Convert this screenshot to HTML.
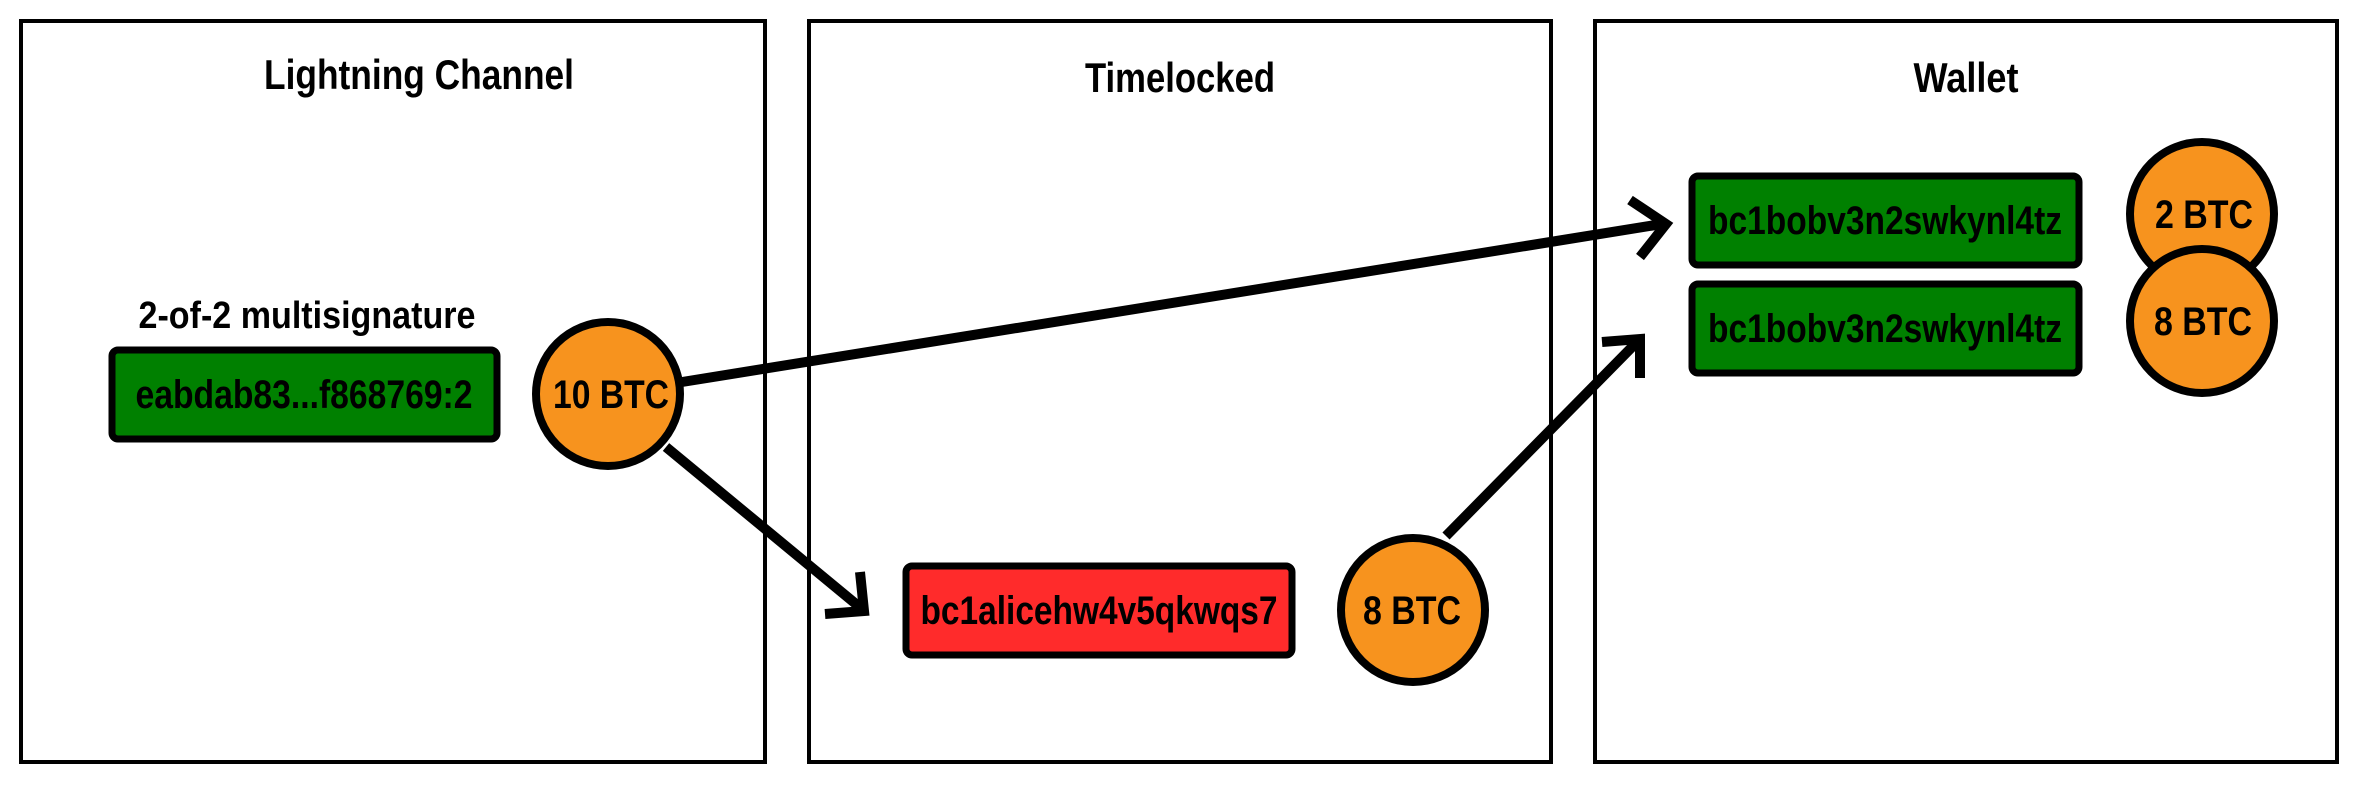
<!DOCTYPE html>
<html><head><meta charset="utf-8"><style>html,body{margin:0;padding:0;background:#fff}svg{display:block}</style></head>
<body>
<svg width="2362" height="787" viewBox="0 0 2362 787" xmlns="http://www.w3.org/2000/svg">
<g fill="none" stroke="#000" stroke-width="4">
<rect x="21" y="21" width="744" height="741"/>
<rect x="809" y="21" width="742" height="741"/>
<rect x="1595" y="21" width="742" height="741"/>
</g>
<g font-family="Liberation Sans, sans-serif" font-weight="bold" text-anchor="middle" fill="#000">
<text x="419" y="89" font-size="42" textLength="310" lengthAdjust="spacingAndGlyphs">Lightning Channel</text>
<text x="1180" y="92" font-size="42" textLength="190" lengthAdjust="spacingAndGlyphs">Timelocked</text>
<text x="1966" y="92" font-size="42" textLength="105" lengthAdjust="spacingAndGlyphs">Wallet</text>
<text x="307" y="328" font-size="38" textLength="337" lengthAdjust="spacingAndGlyphs">2-of-2 multisignature</text>
</g>
<g stroke="#000" stroke-width="10" fill="none" stroke-linejoin="miter" stroke-linecap="butt">
<line x1="682" y1="382" x2="1662" y2="224"/>
<polyline points="1630,200 1666,224 1640,257"/>
<line x1="666" y1="447" x2="862" y2="609"/>
<polyline points="825,614 864,611 860,572"/>
<line x1="1446" y1="536" x2="1638" y2="341"/>
<polyline points="1602,342 1640,339 1640,378"/>
</g>
<g stroke="#000" stroke-width="7">
<rect x="112" y="350" width="385" height="89" rx="6" fill="#008000"/>
<rect x="906" y="566" width="386" height="89" rx="6" fill="#ff2b2b"/>
<rect x="1692" y="176" width="387" height="89" rx="6" fill="#008000"/>
<rect x="1692" y="284" width="387" height="89" rx="6" fill="#008000"/>
</g>
<g stroke="#000" stroke-width="8" fill="#f7931e">
<circle cx="608" cy="394" r="72"/>
<circle cx="1413" cy="610" r="72"/>
<circle cx="2202" cy="214" r="72"/>
<circle cx="2202" cy="321" r="72"/>
</g>
<g font-family="Liberation Sans, sans-serif" font-weight="bold" text-anchor="middle" fill="#000" font-size="40">
<text x="304" y="408" textLength="337" lengthAdjust="spacingAndGlyphs">eabdab83...f868769:2</text>
<text x="611" y="408" textLength="116" lengthAdjust="spacingAndGlyphs">10 BTC</text>
<text x="1099" y="624" textLength="357" lengthAdjust="spacingAndGlyphs">bc1alicehw4v5qkwqs7</text>
<text x="1412" y="624" textLength="98" lengthAdjust="spacingAndGlyphs">8 BTC</text>
<text x="1885" y="234" textLength="354" lengthAdjust="spacingAndGlyphs">bc1bobv3n2swkynl4tz</text>
<text x="1885" y="342" textLength="354" lengthAdjust="spacingAndGlyphs">bc1bobv3n2swkynl4tz</text>
<text x="2204" y="228" textLength="98" lengthAdjust="spacingAndGlyphs">2 BTC</text>
<text x="2203" y="335" textLength="98" lengthAdjust="spacingAndGlyphs">8 BTC</text>
</g>
</svg>
</body></html>
